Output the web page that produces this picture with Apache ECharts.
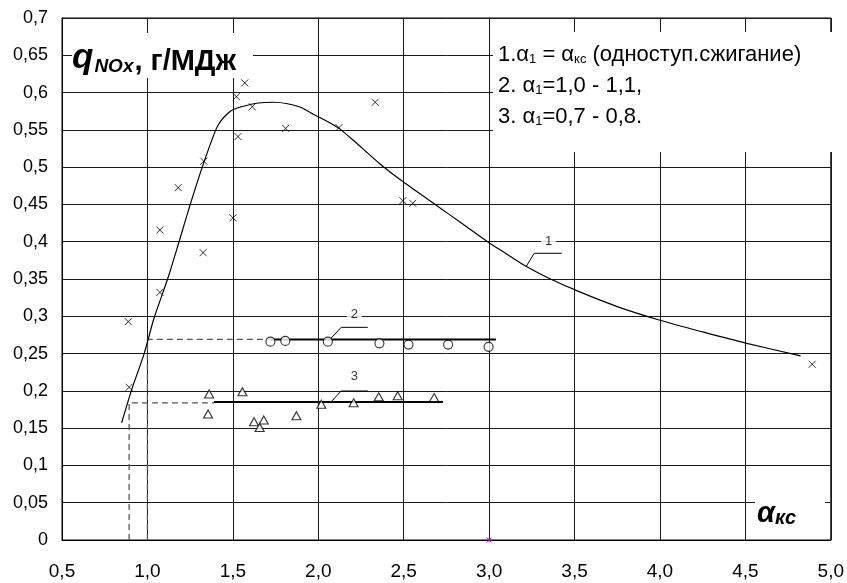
<!DOCTYPE html>
<html>
<head>
<meta charset="utf-8">
<script src="https://cdn.jsdelivr.net/npm/echarts@6/dist/echarts.min.js"></script>
<style>html,body{margin:0;padding:0;background:#fff}#c{width:847px;height:583px}</style>
</head>
<body>
<div id="c"></div>
<script>
// ---- data ----
var curve1 = [[0.849,0.157],[0.907,0.201],[0.981,0.25],[1.038,0.297],[1.121,0.352],[1.184,0.399],[1.248,0.448],[1.324,0.502],[1.40,0.55],[1.43,0.562],[1.47,0.572],[1.5,0.577],[1.55,0.581],[1.65,0.586],[1.74,0.587],[1.82,0.585],[1.9,0.580],[1.97,0.571],[2.04,0.563],[2.115,0.553],[2.2,0.537],[2.358,0.505],[2.499,0.48],[2.69,0.449],[2.85,0.423],[2.997,0.399],[3.1,0.384],[3.216,0.367],[3.35,0.351],[3.527,0.333],[3.75,0.313],[3.995,0.295],[4.25,0.279],[4.502,0.264],[4.823,0.247]];
var crosses = [[1.570,0.613],[1.521,0.5945],[1.614,0.581],[1.530,0.541],[1.809,0.552],[1.330,0.508],[1.180,0.4725],[2.333,0.587],[2.121,0.553],[2.495,0.455],[2.553,0.4515],[1.073,0.4157],[1.501,0.432],[1.326,0.3853],[1.073,0.332],[0.888,0.2928],[0.893,0.2048],[4.891,0.2356]];
var circles = [[1.720,0.266],[1.807,0.267],[2.056,0.266],[2.358,0.2637],[2.528,0.262],[2.760,0.262],[2.997,0.259]];
var triangles = [[1.361,0.1958],[1.355,0.169],[1.556,0.1989],[1.624,0.1587],[1.657,0.151],[1.681,0.161],[1.872,0.1667],[2.018,0.182],[2.207,0.184],[2.354,0.192],[2.465,0.1935],[2.678,0.191]];
var line2 = [[1.72,0.269],[3.04,0.269]];
var line3 = [[1.39,0.185],[2.73,0.185]];
var dash2 = [[1.0,0],[1.0,0.269],[1.72,0.269]];
var dash3 = [[0.893,0],[0.893,0.184],[1.39,0.184]];
var leader1 = [[3.216,0.3665],[3.264,0.3845],[3.426,0.3845]];
var leader2 = [[2.056,0.266],[2.134,0.2852],[2.290,0.2852]];
var leader3 = [[2.076,0.1855],[2.134,0.1998],[2.290,0.1998]];
var curveLabels = [[3.348,0.401,'1'],[2.212,0.303,'2'],[2.212,0.22,'3']];
var strayMark = [[3.0,0.0]];
var xMin = 0.5, xMax = 5.0, xStep = 0.5;
var yMin = 0, yMax = 0.7, yStep = 0.05;

var FONT = 'Liberation Sans, Arial, Helvetica, sans-serif';
var chart = echarts.init(document.getElementById('c'), null, {renderer:'canvas'});

function lineSeries(data, opts){
  return Object.assign({type:'line', data:data, symbol:'none', silent:true, animation:false,
    lineStyle:{color:'#000', width:1}}, opts||{});
}

var option = {
  animation:false,
  backgroundColor:'#fff',
  grid:{left:62, right:15, top:18, bottom:43, show:true, borderColor:'#000', borderWidth:1, backgroundColor:'transparent'},
  xAxis:{type:'value', min:xMin, max:xMax, interval:xStep,
    axisLine:{show:true, onZero:false, lineStyle:{color:'#000', width:1}},
    axisTick:{show:false},
    axisLabel:{color:'#000', fontFamily:FONT, fontSize:19, margin:22,
      formatter:function(v){return v.toFixed(1).replace('.',',');}},
    splitLine:{show:true, lineStyle:{color:'#1a1a1a', width:1}}},
  yAxis:{type:'value', min:yMin, max:yMax, interval:yStep,
    axisLine:{show:true, onZero:false, lineStyle:{color:'#000', width:1}},
    axisTick:{show:false},
    axisLabel:{color:'#000', fontFamily:FONT, fontSize:18, margin:14,
      formatter:function(v){ if(Math.abs(v)<1e-9) return '0'; return String(+v.toFixed(2)).replace('.',','); }},
    splitLine:{show:true, lineStyle:{color:'#1a1a1a', width:1}}},
  series:[
    lineSeries(dash2, {lineStyle:{color:'#555', width:1.3, type:[6,4]}}),
    lineSeries(dash3, {lineStyle:{color:'#555', width:1.3, type:[6,4]}}),
    lineSeries(curve1, {smooth:0.25, lineStyle:{color:'#000', width:1.2}}),
    lineSeries(line2, {lineStyle:{color:'#000', width:2}}),
    lineSeries(line3, {lineStyle:{color:'#000', width:2}}),
    lineSeries(leader1, {lineStyle:{color:'#000', width:1}}),
    lineSeries(leader2, {lineStyle:{color:'#000', width:1}}),
    lineSeries(leader3, {lineStyle:{color:'#000', width:1}}),
    {type:'scatter', data:crosses, symbol:'path://M0,0L10,10M10,0L0,10', symbolSize:7,
      itemStyle:{color:'transparent', borderColor:'#000', borderWidth:1}, silent:true, z:5},
    {type:'scatter', data:circles, symbol:'circle', symbolSize:9,
      itemStyle:{color:'#fff', borderColor:'#000', borderWidth:1.1}, silent:true, z:5},
    {type:'scatter', data:triangles, symbol:'triangle', symbolSize:[9,8],
      itemStyle:{color:'#fff', borderColor:'#000', borderWidth:1.1}, silent:true, z:5},
    {type:'scatter', data:strayMark, symbol:'path://M0,0L10,10M10,0L0,10M5,0L5,10M0,5L10,5', symbolSize:5,
      itemStyle:{color:'transparent', borderColor:'#b000b0', borderWidth:1}, silent:true, z:6, clip:false},
    {type:'scatter', data:curveLabels, symbolSize:0, silent:true, z:8,
      label:{show:true, position:'inside', formatter:function(p){return p.data[2];},
        color:'#000', fontFamily:FONT, fontSize:13, backgroundColor:'#fff', padding:[1,4]}}
  ],
  graphic:[
    {type:'rect', z:100, shape:{x:72, y:33, width:181, height:45}, style:{fill:'#fff'}},
    {type:'text', z:101, style:{x:72, y:76, verticalAlign:'bottom', align:'left',
      text:'{q|q}{s|NOx}{c|, г/МДж}',
      rich:{
        q:{fontFamily:FONT, fontSize:35, fontWeight:'bold', fontStyle:'italic', lineHeight:35, verticalAlign:'bottom', fill:'#000'},
        s:{fontFamily:FONT, fontSize:19, fontWeight:'bold', fontStyle:'italic', lineHeight:17, verticalAlign:'bottom', fill:'#000', padding:[0,1,0,1]},
        c:{fontFamily:FONT, fontSize:29, fontWeight:'bold', lineHeight:29, verticalAlign:'bottom', fill:'#000'}
      }}},
    {type:'rect', z:100, shape:{x:493, y:32, width:341, height:120}, style:{fill:'#fff'}},
    {type:'text', z:101, style:{x:498, y:55, verticalAlign:'middle', align:'left',
      text:'{t|1.α}{s|1}{t| = α}{s|кс}{t| (одноступ.сжигание)}',
      rich:{t:{fontFamily:FONT, fontSize:22, lineHeight:22, verticalAlign:'bottom', fill:'#000'},
            s:{fontFamily:FONT, fontSize:13, lineHeight:6, verticalAlign:'bottom', fill:'#000'}}}},
    {type:'text', z:101, style:{x:498, y:86, verticalAlign:'middle', align:'left',
      text:'{t|2. α}{s|1}{t|=1,0 - 1,1,}',
      rich:{t:{fontFamily:FONT, fontSize:22, lineHeight:22, verticalAlign:'bottom', fill:'#000'},
            s:{fontFamily:FONT, fontSize:13, lineHeight:6, verticalAlign:'bottom', fill:'#000'}}}},
    {type:'text', z:101, style:{x:498, y:117, verticalAlign:'middle', align:'left',
      text:'{t|3. α}{s|1}{t|=0,7 - 0,8.}',
      rich:{t:{fontFamily:FONT, fontSize:22, lineHeight:22, verticalAlign:'bottom', fill:'#000'},
            s:{fontFamily:FONT, fontSize:13, lineHeight:6, verticalAlign:'bottom', fill:'#000'}}}},
    {type:'rect', z:100, shape:{x:755, y:493, width:70, height:38}, style:{fill:'#fff'}},
    {type:'text', z:101, style:{x:757, y:514, verticalAlign:'middle', align:'left',
      text:'{a|α}{k|кс}',
      rich:{a:{fontFamily:FONT, fontSize:29, fontWeight:'bold', fontStyle:'italic', lineHeight:29, verticalAlign:'bottom', fill:'#000'},
            k:{fontFamily:FONT, fontSize:20, fontWeight:'bold', fontStyle:'italic', lineHeight:20, verticalAlign:'bottom', fill:'#000'}}}}
  ]
};
chart.setOption(option);
</script>
</body>
</html>
